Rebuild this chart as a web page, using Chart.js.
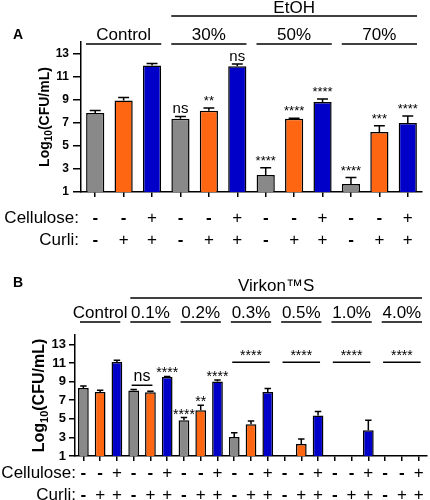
<!DOCTYPE html>
<html>
<head>
<meta charset="utf-8">
<script src="https://cdn.jsdelivr.net/npm/chart.js@4.4.0/dist/chart.umd.min.js"></script>
<style>
  body { margin: 0; background: #fff; }
  canvas { position: absolute; left: 0; width: 430px; height: 250px; }
</style>
</head>
<body>
<canvas id="chartA" width="430" height="250" style="top:0px"></canvas>
<canvas id="chartB" width="430" height="250" style="top:250px"></canvas>
<script>
const yTicks = [1, 3, 5, 7, 9, 11, 13];

// panel A - EtOH
const groupsA = ['Control', '30%', '50%', '70%'];
const celluloseA = ['-', '-', '+', '-', '-', '+', '-', '-', '+', '-', '-', '+'];
const curliA = ['-', '+', '+', '-', '+', '+', '-', '+', '+', '-', '+', '+'];
const valuesA = [7.84, 8.94, 11.96, 7.35, 8.04, 11.9, 2.48, 7.35, 8.8, 1.7, 6.2, 6.97];
const errorsA = [0.23, 0.26, 0.17, 0.2, 0.24, 0.2, 0.62, 0.05, 0.26, 0.55, 0.54, 0.61];
const sigA = ['', '', '', 'ns', '**', 'ns', '****', '****', '****', '****', '***', '****'];

// panel B - Virkon S
const groupsB = ['Control', '0.1%', '0.2%', '0.3%', '0.5%', '1.0%', '4.0%'];
const celluloseB = ['-', '-', '+', '-', '-', '+', '-', '-', '+', '-', '-', '+', '-', '-', '+', '-', '-', '+', '-', '-', '+'];
const curliB = ['-', '+', '+', '-', '+', '+', '-', '+', '+', '-', '+', '+', '-', '+', '+', '-', '+', '+', '-', '+', '+'];
const valuesB = [8.31, 7.88, 11.1, 8.03, 7.85, 9.5, 4.84, 5.91, 9.0, 3.04, 4.41, 7.88, null, 2.29, 5.34, null, null, 3.76, null, null, null];
const errorsB = [0.22, 0.18, 0.19, 0.11, 0.11, 0.05, 0.29, 0.54, 0.17, 0.47, 0.36, 0.36, null, 0.54, 0.43, null, null, 1.08, null, null, null];
const sigB = ['', '', '', '', '', '****', '****', '**', '****', '', '', '', '', '', '', '', '', '', '', '', ''];
const bracketsB = [
    { from: 3, to: 4, label: 'ns', level: 8.6 },
    { from: 9, to: 11, label: '****', level: 11.07 },
    { from: 12, to: 14, label: '****', level: 11.07 },
    { from: 15, to: 17, label: '****', level: 11.07 },
    { from: 18, to: 20, label: '****', level: 11.07 }
];

const FONT = '"Liberation Sans", Arial, Helvetica, sans-serif';
const barColors = ['#898989', '#ff6611', '#0000c8'];

function font(size, bold) {
    return (bold ? 'bold ' : '') + size + 'px ' + FONT;
}

function drawYTitle(c, x, y, size) {
    c.save();
    c.translate(x, y);
    c.rotate(-Math.PI / 2);
    const big = font(size, true), small = font(Math.round(size * 0.7), true);
    c.font = big;
    const w1 = c.measureText('Log').width;
    const w3 = c.measureText('(CFU/mL)').width;
    c.font = small;
    const w2 = c.measureText('10').width;
    let sx = -(w1 + w2 + w3) / 2;
    c.textAlign = 'left';
    c.textBaseline = 'middle';
    c.font = big; c.fillText('Log', sx, 0); sx += w1;
    c.font = small; c.fillText('10', sx, size * 0.3); sx += w2;
    c.font = big; c.fillText('(CFU/mL)', sx, 0);
    c.restore();
}

function hline(c, x1, x2, y) {
    c.beginPath();
    c.moveTo(x1, y);
    c.lineTo(x2, y);
    c.stroke();
}

function panelMarks(p) {
    return {
        id: 'panelMarks',
        afterDraw(chart) {
            const c = chart.ctx, xs = chart.scales.x, ys = chart.scales.y;
            const cx = i => xs.getPixelForValue(i);
            const catW = cx(1) - cx(0);
            const barW = catW * 0.64;
            c.save();
            c.fillStyle = '#000';
            c.strokeStyle = '#000';
            c.lineWidth = 1.5;

            // error bars
            p.values.forEach((v, i) => {
                if (v == null) return;
                const y0 = ys.getPixelForValue(v), y1 = ys.getPixelForValue(v + p.errors[i]);
                c.beginPath();
                c.moveTo(cx(i), y0); c.lineTo(cx(i), y1);
                c.moveTo(cx(i) - barW * 0.3, y1); c.lineTo(cx(i) + barW * 0.3, y1);
                c.stroke();
            });

            // significance over single bars
            c.textAlign = 'center';
            c.textBaseline = 'alphabetic';
            p.sig.forEach((s, i) => {
                if (!s) return;
                const top = ys.getPixelForValue(p.values[i] + p.errors[i]);
                c.font = s == 'ns' ? font(p.nsFont) : font(p.starFont);
                c.fillText(s, cx(i), top - p.sigGap);
            });

            // brackets
            (p.brackets || []).forEach(b => {
                const y = ys.getPixelForValue(b.level);
                const x1 = cx(b.from) - 2, x2 = cx(b.to) + 2;
                hline(c, x1, x2, y);
                if (b.label == 'ns') {
                    c.font = font(p.nsFont);
                    c.fillText(b.label, (x1 + x2) / 2, y - 4);
                } else {
                    c.font = font(p.starFont);
                    c.fillText(b.label, (x1 + x2) / 2, y - 2);
                }
            });

            // group labels and lines
            c.textBaseline = 'middle';
            c.font = font(p.groupFont);
            p.groups.forEach((g, k) => {
                const left = cx(k * 3) - catW / 2 + p.inset;
                const right = cx(k * 3 + 2) + catW / 2 - p.inset;
                c.fillText(g, (left + right) / 2, p.groupY);
                hline(c, left, right, p.groupLineY);
            });
            const sl = cx(p.superFrom) - catW / 2 + p.inset;
            const sr = cx(p.superTo) + catW / 2 - p.inset;
            c.fillText(p.superLabel, (sl + sr) / 2, p.superY);
            hline(c, sl, sr, p.superLineY);

            // cellulose / curli rows
            [p.cellulose, p.curli].forEach((row, r) => {
                c.font = font(p.rowFont);
                c.textAlign = 'right';
                c.fillText(r == 0 ? 'Cellulose:' : 'Curli:', p.rowRight, p.rowY[r]);
                c.textAlign = 'center';
                row.forEach((s, i) => {
                    c.font = font(p.rowFont, s == '-');
                    c.fillText(s, cx(i), p.rowY[r]);
                });
            });

            // panel letter and axis title
            c.textAlign = 'left';
            c.font = font(14, true);
            c.fillText(p.letter, 13, p.letterY);
            drawYTitle(c, p.titleX, (chart.chartArea.top + chart.chartArea.bottom) / 2, p.titleSize);
            c.restore();
        }
    };
}

function buildChart(id, p) {
    const ctx = document.getElementById(id).getContext('2d');
    return new Chart(ctx, {
        type: 'bar',
        data: {
            labels: p.cellulose.map((s, i) => s + '/' + p.curli[i]),
            datasets: [{
                data: p.values,
                backgroundColor: p.values.map((v, i) => barColors[i % 3]),
                borderColor: '#000',
                borderWidth: 1.5,
                borderSkipped: false,
                barPercentage: 0.64,
                categoryPercentage: 1
            }]
        },
        options: {
            responsive: false,
            animation: false,
            layout: { padding: p.padding },
            plugins: {
                legend: { display: false },
                tooltip: { enabled: false }
            },
            scales: {
                x: {
                    grid: { display: true, drawOnChartArea: false, offset: false, tickLength: 5, color: '#000', lineWidth: 1.5 },
                    border: { color: '#000', width: 1.5 },
                    ticks: { display: false },
                    afterFit: s => { s.height = 10; }
                },
                y: {
                    min: 1,
                    max: 14,
                    afterBuildTicks: s => { s.ticks = yTicks.map(v => ({ value: v })); },
                    grid: { drawOnChartArea: false, tickLength: p.tickLen, color: '#000', lineWidth: 1.5 },
                    border: { color: '#000', width: 1.5 },
                    ticks: { color: '#000', padding: p.tickPad, font: { family: FONT, size: p.tickFont, weight: 'bold' } },
                    afterFit: s => { s.width = 30; }
                }
            }
        },
        plugins: [panelMarks(p)]
    });
}

document.addEventListener('DOMContentLoaded', function() {
    buildChart('chartA', {
        values: valuesA, errors: errorsA, sig: sigA, groups: groupsA,
        cellulose: celluloseA, curli: curliA,
        superLabel: 'EtOH', superFrom: 3, superTo: 11,
        padding: { left: 51, right: 8, top: 42, bottom: 48 },
        tickFont: 12, tickLen: 8, tickPad: 4,
        titleX: 45, titleSize: 14, letter: 'A', letterY: 35,
        superY: 8, superLineY: 16, groupY: 35, groupLineY: 44, groupFont: 17, inset: 5,
        rowFont: 17, rowY: [218, 240], rowRight: 79,
        nsFont: 15, starFont: 13, sigGap: 3
    });
    buildChart('chartB', {
        values: valuesB, errors: errorsB, sig: sigB, groups: groupsB, brackets: bracketsB,
        cellulose: celluloseB, curli: curliB,
        superLabel: 'Virkon\u2122S', superFrom: 3, superTo: 20,
        padding: { left: 45, right: 3, top: 85, bottom: 34 },
        tickFont: 13, tickLen: 6, tickPad: 3,
        titleX: 40, titleSize: 16, letter: 'B', letterY: 33,
        superY: 36, superLineY: 48, groupY: 63, groupLineY: 72, groupFont: 17, inset: 5,
        rowFont: 17, rowY: [223, 245], rowRight: 76,
        nsFont: 16, starFont: 14, sigGap: -1
    });
});
</script>
</body>
</html>
